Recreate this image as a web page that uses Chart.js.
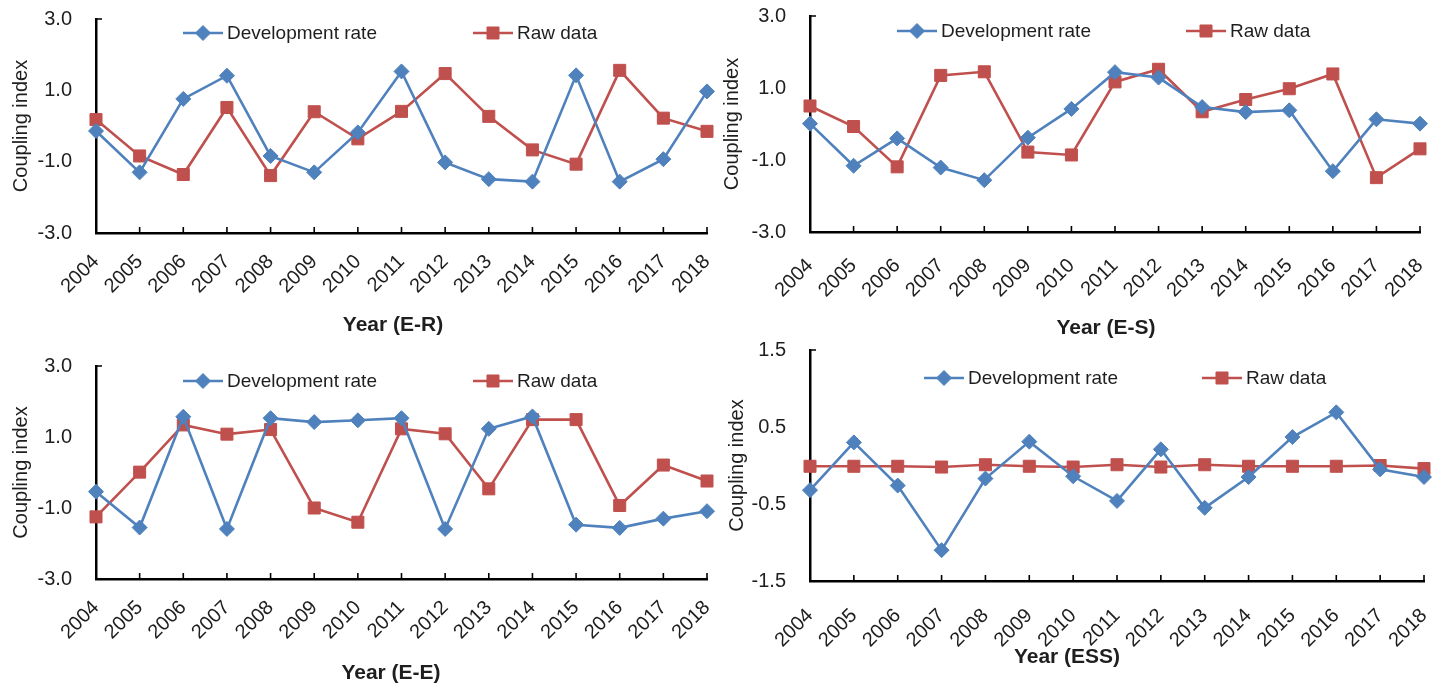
<!DOCTYPE html>
<html>
<head>
<meta charset="utf-8">
<script src="https://cdn.jsdelivr.net/npm/chart.js@4/dist/chart.umd.min.js"></script>
<style>
  html, body { margin: 0; padding: 0; background: #ffffff; }
  body { width: 1441px; height: 689px; position: relative; overflow: hidden; }
  canvas { position: absolute; }
</style>
</head>
<body>
<canvas id="pER"></canvas>
<canvas id="pES"></canvas>
<canvas id="pEE"></canvas>
<canvas id="pESS"></canvas>
<script>
// Years on the horizontal axis
const years = ['2004', '2005', '2006', '2007', '2008', '2009', '2010', '2011',
               '2012', '2013', '2014', '2015', '2016', '2017', '2018'];

// Series labels
const devLabel = 'Development rate';
const rawLabel = 'Raw data';

// E-R coupling index
const erDev = [-0.14, -1.30, 0.76, 1.41, -0.84, -1.30, -0.18, 1.53, -1.02, -1.49, -1.56, 1.42, -1.56, -0.93, 0.97];
const erRaw = [0.18, -0.84, -1.36, 0.52, -1.39, 0.40, -0.36, 0.41, 1.47, 0.27, -0.67, -1.07, 1.56, 0.22, -0.15];

// E-S coupling index
const esDev = [0.01, -1.16, -0.40, -1.21, -1.56, -0.38, 0.42, 1.44, 1.29, 0.47, 0.33, 0.38, -1.31, 0.13, 0.01];
const esRaw = [0.50, -0.07, -1.19, 1.35, 1.45, -0.78, -0.86, 1.17, 1.52, 0.34, 0.68, 0.98, 1.39, -1.49, -0.69];

// E-E coupling index
const eeDev = [-0.54, -1.55, 1.57, -1.59, 1.53, 1.42, 1.47, 1.53, -1.59, 1.23, 1.58, -1.47, -1.56, -1.30, -1.09];
const eeRaw = [-1.25, 0.01, 1.34, 1.08, 1.21, -1.00, -1.40, 1.23, 1.09, -0.46, 1.49, 1.49, -0.93, 0.21, -0.24];

// ESS coupling index
const essDev = [-0.32, 0.30, -0.26, -1.10, -0.17, 0.31, -0.14, -0.46, 0.21, -0.55, -0.15, 0.37, 0.69, -0.05, -0.15];
const essRaw = [-0.01, -0.01, -0.01, -0.02, 0.01, -0.01, -0.02, 0.01, -0.02, 0.01, -0.01, -0.01, -0.01, 0.00, -0.04];

// Axis titles
const yTitle = 'Coupling index';
const xTitles = ['Year (E-R)', 'Year (E-S)', 'Year (E-E)', 'Year (ESS)'];

const FONT = "'Liberation Sans', Arial, sans-serif";
const BLUE = '#4f81bd';
const RED = '#c0504d';
const TEXT = '#1e1e1e';

// Draws inner tick marks, the in-plot legend and the axis titles
const panelDecor = {
  id: 'panelDecor',
  afterDraw(chart, args, opts) {
    const { ctx, chartArea, scales } = chart;
    const xs = scales.x, ys = scales.y;
    ctx.save();
    ctx.strokeStyle = '#000';
    ctx.lineWidth = 1.6;
    ctx.beginPath();
    xs.ticks.forEach((t, i) => {
      const px = xs.getPixelForTick(i);
      ctx.moveTo(px, chartArea.bottom);
      ctx.lineTo(px, chartArea.bottom - 6);
    });
    const yTop = ys.getPixelForValue(ys.max);
    ctx.moveTo(chartArea.left, yTop);
    ctx.lineTo(chartArea.left + 6, yTop);
    ctx.stroke();

    // legend entries
    ctx.font = '19px ' + FONT;
    ctx.textBaseline = 'middle';
    ctx.textAlign = 'left';
    chart.data.datasets.forEach((ds, i) => {
      const cx = opts.legendX[i], cy = opts.legendY;
      ctx.strokeStyle = ds.borderColor;
      ctx.fillStyle = ds.backgroundColor;
      ctx.lineWidth = ds.borderWidth;
      ctx.beginPath();
      ctx.moveTo(cx - 20, cy);
      ctx.lineTo(cx + 20, cy);
      ctx.stroke();
      ctx.lineWidth = 1;
      Chart.helpers.drawPoint(ctx, {
        pointStyle: ds.pointStyle, radius: ds.pointRadius, rotation: 0, borderWidth: 1
      }, cx, cy);
      ctx.fillStyle = TEXT;
      ctx.fillText(ds.label, cx + 24, cy + 1);
    });

    // y title
    ctx.save();
    ctx.translate(opts.yTitleX, (chartArea.top + chartArea.bottom) / 2);
    ctx.rotate(-Math.PI / 2);
    ctx.textAlign = 'center';
    ctx.font = '20px ' + FONT;
    ctx.fillStyle = TEXT;
    ctx.fillText(yTitle, 0, 0);
    ctx.restore();

    // x title
    ctx.textAlign = 'center';
    ctx.font = 'bold 21px ' + FONT;
    ctx.fillStyle = TEXT;
    ctx.fillText(opts.xTitle, opts.xTitleX, opts.xTitleY);
    ctx.restore();
  }
};

function makePanel(id, box, area, range, dev, raw, deco) {
  const cv = document.getElementById(id);
  cv.width = box.w; cv.height = box.h;
  cv.style.left = box.x + 'px'; cv.style.top = box.y + 'px';
  cv.style.width = box.w + 'px'; cv.style.height = box.h + 'px';

  const leftW = area.l - box.x;
  const bottomH = box.y + box.h - area.b;

  return new Chart(cv, {
    type: 'line',
    data: {
      labels: years,
      datasets: [
        {
          label: devLabel, data: dev,
          borderColor: BLUE, backgroundColor: BLUE, borderWidth: 2.6,
          pointStyle: 'rectRot', pointRadius: 7.5, pointBorderWidth: 1,
          pointBackgroundColor: BLUE, pointBorderColor: BLUE,
          tension: 0, clip: false
        },
        {
          label: rawLabel, data: raw,
          borderColor: RED, backgroundColor: RED, borderWidth: 2.6,
          pointStyle: 'rect', pointRadius: 8.5, pointBorderWidth: 1,
          pointBackgroundColor: RED, pointBorderColor: RED,
          tension: 0, clip: false
        }
      ]
    },
    options: {
      responsive: false,
      animation: false,
      devicePixelRatio: 1,
      layout: { padding: { top: area.t - box.y, right: box.x + box.w - area.r, left: 0, bottom: 0 } },
      plugins: {
        legend: { display: false },
        tooltip: { enabled: false },
        panelDecor: deco
      },
      scales: {
        x: {
          type: 'category',
          offset: false,
          grid: { display: true, drawOnChartArea: false, drawTicks: false, color: 'rgba(0,0,0,0)' },
          border: { display: true, color: '#000', width: 2.5 },
          ticks: {
            color: TEXT, font: { family: FONT, size: 20 },
            minRotation: 45, maxRotation: 45, autoSkip: false, padding: deco.xPad
          },
          afterFit: s => {
            s.height = bottomH;
            s.paddingLeft = 0; s.paddingRight = 0;
          }
        },
        y: {
          min: range.min, max: range.max,
          grid: { display: true, drawOnChartArea: false, drawTicks: false, color: 'rgba(0,0,0,0)' },
          border: { display: true, color: '#000', width: 2.5 },
          ticks: {
            stepSize: range.step, color: TEXT, font: { family: FONT, size: 20 }, padding: 24,
            callback: v => Number(v).toFixed(1)
          },
          afterFit: s => {
            s.width = leftW;
            s.paddingTop = 0; s.paddingBottom = 0;
          }
        }
      }
    },
    plugins: [panelDecor]
  });
}

const wide = { min: -3, max: 3, step: 2 };
const narrow = { min: -1.5, max: 1.5, step: 1 };

makePanel('pER', { x: 0, y: 0, w: 720, h: 345 }, { l: 96, t: 19, r: 707, b: 233 }, wide, erDev, erRaw,
  { legendX: [203, 493], legendY: 33, yTitleX: 21, xTitle: xTitles[0], xTitleX: 393, xTitleY: 325, xPad: 17 });

makePanel('pES', { x: 720, y: 0, w: 721, h: 345 }, { l: 810, t: 16, r: 1420, b: 232 }, wide, esDev, esRaw,
  { legendX: [197, 486], legendY: 31, yTitleX: 12, xTitle: xTitles[1], xTitleX: 386, xTitleY: 328, xPad: 22 });

makePanel('pEE', { x: 0, y: 345, w: 720, h: 344 }, { l: 96, t: 366, r: 707, b: 579 }, wide, eeDev, eeRaw,
  { legendX: [203, 493], legendY: 36, yTitleX: 21, xTitle: xTitles[2], xTitleX: 391, xTitleY: 328, xPad: 17 });

makePanel('pESS', { x: 720, y: 325, w: 721, h: 364 }, { l: 810, t: 350, r: 1424, b: 581 }, narrow, essDev, essRaw,
  { legendX: [224, 502], legendY: 53, yTitleX: 17, xTitle: xTitles[3], xTitleX: 347, xTitleY: 332, xPad: 23 });
</script>
</body>
</html>
